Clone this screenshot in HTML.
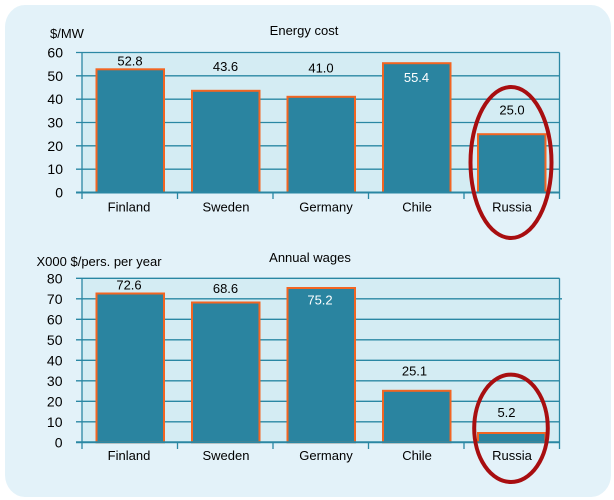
<!DOCTYPE html>
<html>
<head>
<meta charset="utf-8">
<style>
html,body{margin:0;padding:0;background:#fff;}
svg{display:block;}
text{font-family:"Liberation Sans",Arial,sans-serif;font-size:13px;fill:#000;}
.t{font-size:14px;}
.w{fill:#fff;}
</style>
</head>
<body>
<svg width="614" height="500" viewBox="0 0 614 500" xmlns="http://www.w3.org/2000/svg">
  <!-- panel -->
  <rect x="5" y="5" width="606" height="492" rx="20" ry="22" fill="#E3F2F9"/>

  <!-- ===== TOP CHART ===== -->
  <rect x="82" y="52.5" width="477.5" height="140" fill="#D4ECF3"/>
  <g stroke="#2A87A3" stroke-width="1.3" fill="none">
    <line x1="76" y1="52.5" x2="559.5" y2="52.5"/>
    <line x1="76" y1="75.8" x2="559.5" y2="75.8"/>
    <line x1="76" y1="99.2" x2="559.5" y2="99.2"/>
    <line x1="76" y1="122.5" x2="559.5" y2="122.5"/>
    <line x1="76" y1="145.8" x2="559.5" y2="145.8"/>
    <line x1="76" y1="169.2" x2="559.5" y2="169.2"/>
    <line x1="82" y1="52.5" x2="82" y2="199"/>
    <line x1="559.5" y1="52.5" x2="559.5" y2="199"/>
    <line x1="177.5" y1="192.5" x2="177.5" y2="199"/>
    <line x1="273" y1="192.5" x2="273" y2="199"/>
    <line x1="368.5" y1="192.5" x2="368.5" y2="199"/>
    <line x1="464" y1="192.5" x2="464" y2="199"/>
  </g>
  <g fill="#2A84A0" stroke="#F26522" stroke-width="2">
    <rect x="96.5" y="69.3" width="67.5" height="123.2"/>
    <rect x="192" y="90.8" width="67.5" height="101.7"/>
    <rect x="287.5" y="96.8" width="67.5" height="95.7"/>
    <rect x="383" y="63.2" width="67.5" height="129.3"/>
    <rect x="478" y="134.2" width="67.5" height="58.3"/>
  </g>
  <line x1="76" y1="192.5" x2="559.5" y2="192.5" stroke="#2A87A3" stroke-width="2"/>

  <text x="50" y="38">$/MW</text>
  <text x="304" y="35" text-anchor="middle">Energy cost</text>
  <g text-anchor="end" class="t">
    <text class="t" x="63" y="57.5">60</text>
    <text class="t" x="63" y="80.8">50</text>
    <text class="t" x="63" y="104.2">40</text>
    <text class="t" x="63" y="127.5">30</text>
    <text class="t" x="63" y="150.8">20</text>
    <text class="t" x="63" y="174.2">10</text>
    <text class="t" x="63" y="197.5">0</text>
  </g>
  <g text-anchor="middle">
    <text x="130" y="65.5">52.8</text>
    <text x="225.5" y="71">43.6</text>
    <text x="321" y="72.5">41.0</text>
    <text class="w" x="416.5" y="82">55.4</text>
    <text x="512" y="114.5">25.0</text>
    <text x="129" y="211.5">Finland</text>
    <text x="226" y="211.5">Sweden</text>
    <text x="326" y="211.5">Germany</text>
    <text x="417" y="211.5">Chile</text>
    <text x="512" y="211.5">Russia</text>
  </g>
  <ellipse cx="511" cy="162.5" rx="40.5" ry="75.5" fill="none" stroke="#A80E10" stroke-width="4"/>

  <!-- ===== BOTTOM CHART ===== -->
  <rect x="82" y="278.3" width="477.5" height="164" fill="#D4ECF3"/>
  <g stroke="#2A87A3" stroke-width="1.3" fill="none">
    <line x1="76" y1="278.3" x2="559.5" y2="278.3"/>
    <line x1="76" y1="298.8" x2="562" y2="298.8"/>
    <line x1="76" y1="319.3" x2="559.5" y2="319.3"/>
    <line x1="76" y1="339.8" x2="559.5" y2="339.8"/>
    <line x1="76" y1="360.3" x2="559.5" y2="360.3"/>
    <line x1="76" y1="380.8" x2="559.5" y2="380.8"/>
    <line x1="76" y1="401.3" x2="559.5" y2="401.3"/>
    <line x1="76" y1="421.8" x2="559.5" y2="421.8"/>
    <line x1="82" y1="278.3" x2="82" y2="449"/>
    <line x1="559.5" y1="278.3" x2="559.5" y2="449"/>
    <line x1="177.5" y1="442.3" x2="177.5" y2="449"/>
    <line x1="273" y1="442.3" x2="273" y2="449"/>
    <line x1="368.5" y1="442.3" x2="368.5" y2="449"/>
    <line x1="464" y1="442.3" x2="464" y2="449"/>
  </g>
  <g fill="#2A84A0" stroke="#F26522" stroke-width="2">
    <rect x="96.5" y="293.5" width="67.5" height="148.8"/>
    <rect x="192" y="302.5" width="67.5" height="139.8"/>
    <rect x="287.5" y="288" width="67.5" height="154.3"/>
    <rect x="383" y="390.8" width="67.5" height="51.5"/>
    <rect x="478" y="433" width="67.5" height="9.3"/>
  </g>
  <line x1="76" y1="442.3" x2="559.5" y2="442.3" stroke="#2A87A3" stroke-width="2"/>

  <text x="36.5" y="266">X000 $/pers. per year</text>
  <text x="310" y="262" text-anchor="middle">Annual wages</text>
  <g text-anchor="end">
    <text class="t" x="62.5" y="283.3">80</text>
    <text class="t" x="62.5" y="303.8">70</text>
    <text class="t" x="62.5" y="324.3">60</text>
    <text class="t" x="62.5" y="344.8">50</text>
    <text class="t" x="62.5" y="365.3">40</text>
    <text class="t" x="62.5" y="385.8">30</text>
    <text class="t" x="62.5" y="406.3">20</text>
    <text class="t" x="62.5" y="426.8">10</text>
    <text class="t" x="62.5" y="447.3">0</text>
  </g>
  <g text-anchor="middle">
    <text x="129" y="289.5">72.6</text>
    <text x="225.5" y="293">68.6</text>
    <text class="w" x="320" y="304.5">75.2</text>
    <text x="414.5" y="375.5">25.1</text>
    <text x="506.5" y="417">5.2</text>
    <text x="129" y="460">Finland</text>
    <text x="226" y="460">Sweden</text>
    <text x="326" y="460">Germany</text>
    <text x="417" y="460">Chile</text>
    <text x="512" y="460">Russia</text>
  </g>
  <ellipse cx="511" cy="428.3" rx="36.8" ry="53.7" fill="none" stroke="#A80E10" stroke-width="4"/>
</svg>
</body>
</html>
